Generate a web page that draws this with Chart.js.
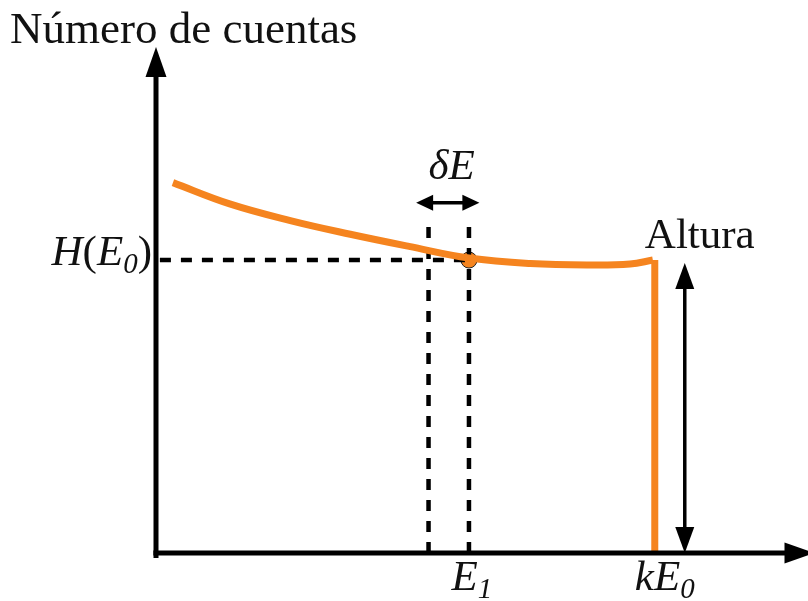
<!DOCTYPE html>
<html>
<head>
<meta charset="utf-8">
<script src="https://cdn.jsdelivr.net/npm/chart.js@4.4.1/dist/chart.umd.min.js"></script>
<style>
  body { margin: 0; background: #fff; }
  canvas { display: block; }
</style>
</head>
<body>
<canvas id="espectro" width="808" height="601"></canvas>
<script>
// energy axis runs 0..100, counts axis 0..100 (arbitrary units)
const energy = [2.6, 11.3, 20.6, 29.8, 38.8, 48.0, 57.4, 66.6, 72.7, 76.2];
const counts = [73.2, 69.0, 65.7, 63.0, 60.6, 58.3, 57.2, 56.9, 57.1, 57.9];

const E1 = 48.0;        // channel centre
const dE = 6.2;         // channel width
const H0 = 57.9;        // H(E0)
const kE0 = 76.5;       // edge position
const edgeTop = 57.9;
const dashTop = 64.8;
const deltaArrowY = 69.2;
const deltaArrowX = [39.9, 49.6];
const alturaX = 81.1;
const alturaTop = 57.3;
const xMax = 101;
const yMax = 100;

const orange = 'rgb(245, 132, 31)';
const FONT = '"Liberation Serif", "Times New Roman", serif';

function seg(x0, y0, x1, y1) {
  return [{x: x0, y: y0}, {x: x1, y: y1}];
}

function lineSet(data, color, width, dash) {
  return {
    data: data,
    showLine: true,
    borderColor: color,
    borderWidth: width,
    borderDash: dash || [],
    pointRadius: 0,
    tension: 0,
    clip: false,
    borderCapStyle: 'butt'
  };
}

const curve = lineSet(energy.map((e, i) => ({x: e, y: counts[i]})), orange, 7);
curve.tension = 0.4;

const datasets = [
  lineSet(seg(0, -1, 0, yMax - 4), '#000', 5),            // counts axis
  lineSet(seg(-0.4, 0, xMax - 3, 0), '#000', 5),          // energy axis
  curve,
  lineSet(seg(kE0, edgeTop, kE0, 0), orange, 7),
  lineSet(seg(0.6, H0, E1, H0), '#000', 4.5, [11, 10]),
  lineSet(seg(E1 - dE, 0, E1 - dE, dashTop), '#000', 4.5, [11, 10]),
  lineSet(seg(E1, 0, E1, dashTop), '#000', 4.5, [11, 10]),
  lineSet(seg(deltaArrowX[0] + 1.5, deltaArrowY, deltaArrowX[1] - 1.5, deltaArrowY), '#000', 3.5),
  lineSet(seg(alturaX, 3, alturaX, alturaTop - 3), '#000', 3.5),
  {
    data: [{x: E1, y: H0}],
    pointRadius: 8,
    pointBackgroundColor: orange,
    pointBorderColor: '#222',
    pointBorderWidth: 1,
    clip: false
  }
];

function head(ctx, tip, from, len, half) {
  const dx = tip.x - from.x, dy = tip.y - from.y;
  const d = Math.hypot(dx, dy);
  const ux = dx / d, uy = dy / d;
  const bx = tip.x - ux * len, by = tip.y - uy * len;
  ctx.beginPath();
  ctx.moveTo(tip.x, tip.y);
  ctx.lineTo(bx - uy * half, by + ux * half);
  ctx.lineTo(bx + uy * half, by - ux * half);
  ctx.closePath();
  ctx.fill();
}

// text pieces: {t, it, sub}
function mathText(ctx, parts, x, y, align, size) {
  const big = size || 43, small = Math.round(big * 0.68);
  const fontOf = p => (p.it ? 'italic ' : '') + (p.sub ? small : big) + 'px ' + FONT;
  let w = 0;
  parts.forEach(p => { ctx.font = fontOf(p); w += ctx.measureText(p.t).width; });
  let cx = align === 'right' ? x - w : align === 'center' ? x - w / 2 : x;
  ctx.textBaseline = 'alphabetic';
  ctx.textAlign = 'left';
  parts.forEach(p => {
    ctx.font = fontOf(p);
    ctx.fillText(p.t, cx, p.sub ? y + 8 : y);
    cx += ctx.measureText(p.t).width;
  });
}

const decor = {
  id: 'decor',
  afterDatasetsDraw(chart) {
    const ctx = chart.ctx;
    const sx = chart.scales.x, sy = chart.scales.y;
    const P = (x, y) => ({x: sx.getPixelForValue(x), y: sy.getPixelForValue(y)});
    ctx.save();
    ctx.fillStyle = '#000';
    // axis arrowheads
    head(ctx, P(0, yMax), P(0, 0), 30, 10.5);
    head(ctx, P(xMax, 0), P(0, 0), 30, 10.5);
    // channel width arrow
    head(ctx, P(deltaArrowX[0], deltaArrowY), P(E1, deltaArrowY), 17, 8);
    head(ctx, P(deltaArrowX[1], deltaArrowY), P(E1 - dE, deltaArrowY), 17, 8);
    // height arrow
    head(ctx, P(alturaX, alturaTop), P(alturaX, 0), 26, 9.5);
    head(ctx, P(alturaX, 0), P(alturaX, alturaTop), 26, 9.5);

    // labels
    ctx.fillStyle = '#111';
    mathText(ctx, [{t: 'Número de cuentas'}], 10, 43, 'left', 45);
    const d = P(E1 - dE / 2, deltaArrowY);
    mathText(ctx, [{t: 'δE', it: true}], d.x + 3, 179, 'center');
    const a = P(alturaX, alturaTop);
    mathText(ctx, [{t: 'Altura'}], a.x + 15, 248, 'center');
    const h = P(0, H0);
    mathText(ctx, [{t: 'H', it: true}, {t: '('}, {t: 'E', it: true}, {t: '0', it: true, sub: true}, {t: ')'}], h.x - 4, h.y + 5, 'right');
    const e = P(E1, 0);
    mathText(ctx, [{t: 'E', it: true}, {t: '1', it: true, sub: true}], e.x + 3, 590, 'center');
    const k = P(kE0, 0);
    mathText(ctx, [{t: 'kE', it: true}, {t: '0', it: true, sub: true}], k.x + 10, 590, 'center');
    ctx.restore();
  }
};

new Chart(document.getElementById('espectro'), {
  type: 'scatter',
  data: { datasets: datasets },
  options: {
    responsive: false,
    animation: false,
    layout: { autoPadding: false, padding: { left: 156, right: 0, top: 47, bottom: 48 } },
    scales: {
      x: { type: 'linear', min: 0, max: 100, display: false },
      y: { type: 'linear', min: 0, max: yMax, display: false }
    },
    plugins: { legend: { display: false }, tooltip: { enabled: false } }
  },
  plugins: [decor]
});
</script>
</body>
</html>
